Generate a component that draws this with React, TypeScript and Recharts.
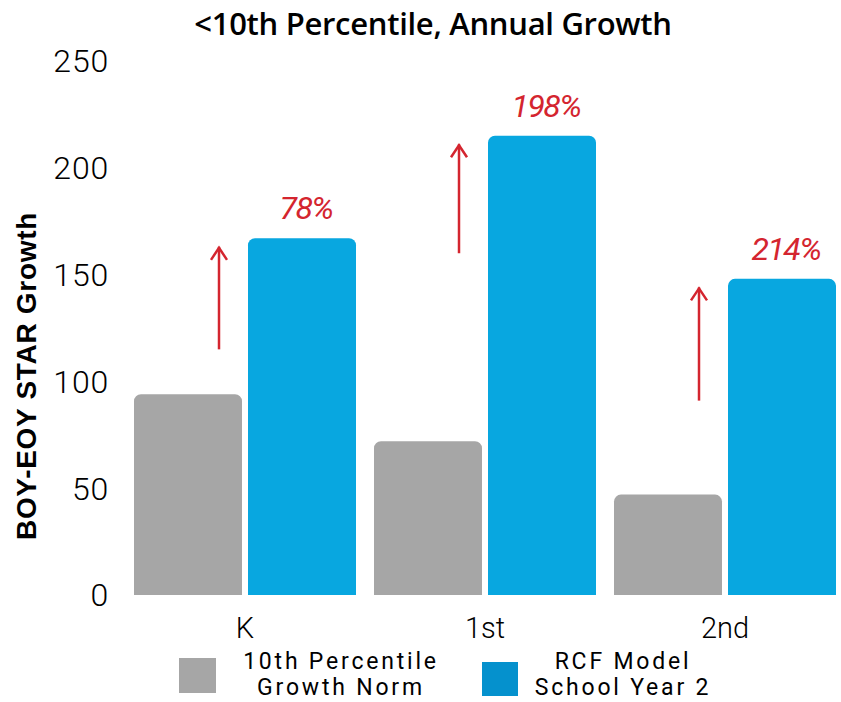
import React from "react";
import { BarChart, Bar, XAxis, YAxis, LabelList } from "recharts";

const categories = ["K", "1st", "2nd"];
const normValues = [94, 72, 47];
const modelValues = [167, 215, 148];
const growthLabels = ["78%", "198%", "214%"];
const arrowBase = [115, 160, 91];
const arrowTip = [163, 211, 144];
const yTicks = [0, 50, 100, 150, 200, 250];

const data = categories.map((c, i) => ({
  cat: c,
  norm: normValues[i],
  model: modelValues[i],
  label: growthLabels[i],
  arrowBase: arrowBase[i],
  arrowTip: arrowTip[i],
}));

const FONT = "Roboto, 'Open Sans', sans-serif";
const TITLE_FONT = "'Open Sans', Roboto, sans-serif";
const RED = "#D4252F";
const GRAY = "#A6A6A6";
const BLUE = "#08A7E0";
const LEGEND_BLUE = "#0591CD";

const ArrowLabel = (props: any) => {
  const { x, y, width, height, index } = props;
  const d = data[index];
  if (!d) return null;
  const scale = height / d.norm;
  const base = y + height;
  const ax = x + 85;
  const y1 = base - d.arrowBase * scale;
  const y2 = base - d.arrowTip * scale;
  return (
    <g>
      <line x1={ax} y1={y1} x2={ax} y2={y2} stroke={RED} strokeWidth={2.5} />
      <polyline
        points={`${ax - 8},${y2 + 13} ${ax},${y2 + 1} ${ax + 8},${y2 + 13}`}
        fill="none"
        stroke={RED}
        strokeWidth={2.5}
      />
    </g>
  );
};

const PctLabel = (props: any) => {
  const { x, y, width, index } = props;
  const d = data[index];
  if (!d) return null;
  return (
    <text
      x={x + width / 2 + 4}
      y={y - 19}
      textAnchor="middle"
      fill={RED}
      fontFamily={FONT}
      fontStyle="italic"
      fontWeight={400}
      fontSize={32}
      letterSpacing={-1.5}
    >
      {d.label}
    </text>
  );
};

const YTitle = () => (
  <text
    x={36}
    y={376}
    transform="rotate(-90 36 376)"
    textAnchor="middle"
    fontFamily="'Liberation Sans', Arial, sans-serif"
    fontWeight={700}
    fontSize={28}
    letterSpacing={0.7}
    fill="#000"
  >
    BOY-EOY STAR Growth
  </text>
);

const legendText: React.CSSProperties = {
  position: "absolute",
  top: 649,
  textAlign: "center",
  fontSize: 23,
  lineHeight: "26px",
  letterSpacing: 2.8,
  fontWeight: 400,
  color: "#000",
};

export default function App() {
  return (
    <div
      style={{
        position: "absolute",
        left: 0,
        top: 0,
        width: 841,
        height: 702,
        overflow: "hidden",
        background: "#fff",
        fontFamily: FONT,
      }}
    >
      <div
        style={{
          position: "absolute",
          left: 0,
          width: 866,
          top: 2,
          textAlign: "center",
          fontFamily: TITLE_FONT,
          fontSize: 31,
          fontWeight: 600,
          letterSpacing: -0.3,
          color: "#000",
        }}
      >
        &lt;10th Percentile, Annual Growth
      </div>
      <div style={{ position: "absolute", left: 0, top: 0 }}>
        <BarChart
          width={850}
          height={702}
          data={data}
          margin={{ top: 61, right: 5, bottom: 0, left: 0 }}
          barCategoryGap={9}
          barGap={6}
        >
          <XAxis
            dataKey="cat"
            height={107}
            axisLine={false}
            tickLine={false}
            tickMargin={16}
            tick={{ fontSize: 29, fontFamily: FONT, fontWeight: 300, fill: "#000" }}
          />
          <YAxis
            width={125}
            domain={[0, 250]}
            ticks={yTicks}
            axisLine={false}
            tickLine={false}
            tickMargin={10}
            tick={{ fontSize: 32, fontFamily: FONT, fontWeight: 300, fill: "#000", letterSpacing: 0.8 }}
            label={<YTitle />}
          />
          <Bar dataKey="norm" fill={GRAY} radius={[7, 7, 0, 0]} isAnimationActive={false}>
            <LabelList dataKey="norm" content={ArrowLabel} />
          </Bar>
          <Bar dataKey="model" fill={BLUE} radius={[7, 7, 0, 0]} isAnimationActive={false}>
            <LabelList dataKey="model" content={PctLabel} />
          </Bar>
        </BarChart>
      </div>
      <div style={{ position: "absolute", left: 179, top: 658, width: 37, height: 35, background: GRAY }} />
      <div style={{ ...legendText, left: 216, width: 250 }}>
        10th Percentile
        <br />
        Growth Norm
      </div>
      <div style={{ position: "absolute", left: 482, top: 662, width: 36, height: 34, background: LEGEND_BLUE }} />
      <div style={{ ...legendText, left: 497, width: 252 }}>
        RCF Model
        <br />
        School Year 2
      </div>
    </div>
  );
}
